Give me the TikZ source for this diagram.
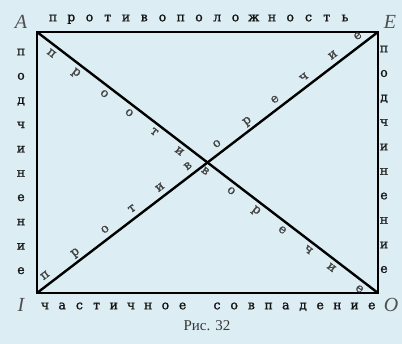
\documentclass[tikz,border=0pt]{standalone}
\usepackage{fontspec}
\setmainfont{Liberation Serif}
\newfontfamily\lettfont[FakeBold=1.4]{DejaVu Serif}
\usetikzlibrary{calc}
\definecolor{bg}{HTML}{DCEEF4}
\definecolor{ink}{HTML}{141414}
\begin{document}
\begin{tikzpicture}[x=1pt,y=-1pt,
  lt/.style={font=\lettfont\fontsize{12.5}{13}\selectfont, inner sep=0pt, text=ink, text height=6.5pt, text depth=0pt},
  dl/.style={font=\lettfont\fontsize{12.5}{13}\selectfont, inner sep=0pt, text=ink!80, text height=6.5pt, text depth=0pt},
  lab/.style={font=\fontsize{20}{20}\selectfont\itshape, inner sep=0pt, text=ink!75},
  edge/.style={line width=2.4pt, black}]
\fill[bg] (0,0) rectangle (402,344);
\useasboundingbox (0,0) rectangle (402,344);
\coordinate (A) at (37,32);
\coordinate (E) at (378,32);
\coordinate (I) at (37,293);
\coordinate (O) at (378,293);
\draw[edge, line join=miter] (A) -- (E) -- (O) -- (I) -- cycle;
\draw[edge] (A) -- (O);
\draw[edge] (I) -- (E);
% corner labels
\node[lab] (lA) at (21,22) {A};
\node[lab] (lE) at (390,22) {E};
\node[lab] (lI) at (21,305) {I};
\node[lab] (lO) at (391,305) {O};
% top
\foreach \c [count=\i] in {п,р,о,т,и,в,о,п,о,л,о,ж,н,о,с,т,ь}
  \node[lt] (t\i) at ({53+(\i-1)*18.25},18) {\c};
% bottom
\foreach \c [count=\i] in {ч,а,с,т,и,ч,н,о,е,{},с,о,в,п,а,д,е,н,и,е}
  \node[lt] (b\i) at ({45+(\i-1)*17.2},306) {\c};
% left and right
\foreach \c [count=\i] in {п,о,д,ч,и,н,е,н,и,е}{
  \node[lt] (l\i) at (21,{52+(\i-1)*24.3}) {\c};
  \node[lt] (r\i) at (384,{49+(\i-1)*24.5}) {\c};
}
% diagonal A-O
\foreach \c/\t [count=\i] in {п/0.057,р/0.130,о/0.212,о/0.285,т/0.358,и/0.432,в/0.508,о/0.584,р/0.658,е/0.734,ч/0.810,и/0.878,е/0.960}
  \node[dl, rotate=-37.5] (ao\i) at ($(A)!\t!(O)+(-4.8,6.3)$) {\c};
% diagonal I-E
\foreach \c/\t [count=\i] in {п/0.040,р/0.128,о/0.216,т/0.295,и/0.377,в/0.459,о/0.544,р/0.632,е/0.714,ч/0.799,и/0.884,е/0.957}
  \node[dl, rotate=37.5] (ie\i) at ($(I)!\t!(E)+(-5.7,-7.4)$) {\c};
\node[font=\fontsize{15}{15}\selectfont, inner sep=0pt, text=ink!85] (cap) at (207,326) {Рис. 32};
\end{tikzpicture}
\end{document}
